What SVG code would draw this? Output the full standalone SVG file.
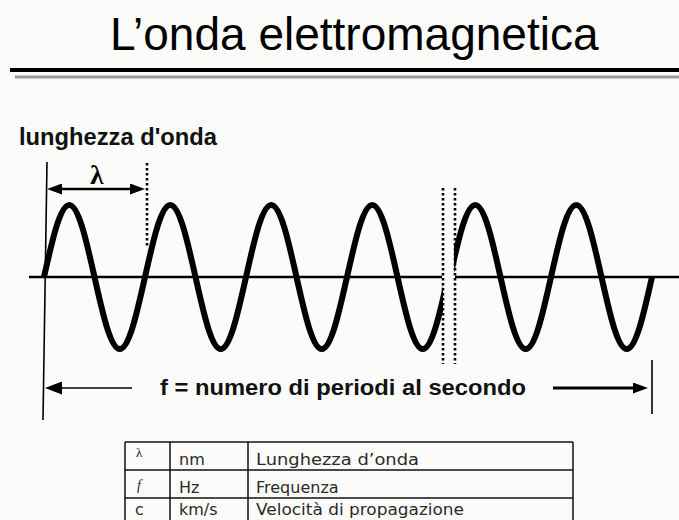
<svg xmlns="http://www.w3.org/2000/svg" width="679" height="520" viewBox="0 0 679 520">
<style>
.title{font-family:"Liberation Sans",Arial,sans-serif;font-size:46px;fill:#000}
.lbl{font-family:"Liberation Sans",Arial,sans-serif;font-weight:bold;fill:#111}
.wave{fill:none;stroke:#000;stroke-width:6;stroke-linejoin:round}
.axis{stroke:#000;stroke-width:2.5}
.thin{stroke:#000;stroke-width:1.6;fill:none}
.dot{stroke:#000;stroke-width:2.6;stroke-dasharray:2.6 2.4;fill:none}
.tbl{stroke:#111;stroke-width:1.5;fill:none}
.tt{font-family:"DejaVu Sans","Liberation Sans",sans-serif;font-size:16px;fill:#2a2a2a}
</style>
<defs>
<marker id="arrA" markerUnits="userSpaceOnUse" markerWidth="16" markerHeight="11" refX="0" refY="5.5" orient="auto-start-reverse"><path d="M0,0 L15,5.5 L0,11 z" fill="#000"/></marker>
<marker id="arrB" markerUnits="userSpaceOnUse" markerWidth="19" markerHeight="13" refX="0" refY="6.5" orient="auto-start-reverse"><path d="M0,0 L17,6.5 L0,13 z" fill="#000"/></marker>
<clipPath id="clipL"><rect x="0" y="150" width="443" height="250"/></clipPath>
<clipPath id="clipR"><rect x="454" y="150" width="225" height="250"/></clipPath>
</defs>
<rect x="0" y="0" width="679" height="520" fill="#fbfbfa"/>
<g id="header">
<text class="title" x="110" y="50">L’onda elettromagnetica</text>
<line x1="10" y1="70" x2="679" y2="70" stroke="#000" stroke-width="4"/>
<line x1="15" y1="77" x2="679" y2="77" stroke="#9a9a9a" stroke-width="3"/>
</g>
<g id="wave-diagram">
<text class="lbl" x="19" y="145" font-size="23" textLength="198" lengthAdjust="spacingAndGlyphs">lunghezza d'onda</text>
<line class="axis" x1="29" y1="277" x2="442" y2="277"/>
<line class="axis" x1="455" y1="277" x2="679" y2="277"/>
<line class="thin" x1="47" y1="162" x2="43" y2="420"/>
<path class="wave" clip-path="url(#clipL)" d="M44,277 c 8.235,-36.88 16.11,-72 25.25,-72 s 17.015,35.12 25.25,72 s 16.11,72 25.25,72 s 17.015,-35.12 25.25,-72 s 16.11,-72 25.25,-72 s 17.015,35.12 25.25,72 s 16.11,72 25.25,72 s 17.015,-35.12 25.25,-72 s 16.11,-72 25.25,-72 s 17.015,35.12 25.25,72 s 16.11,72 25.25,72 s 17.015,-35.12 25.25,-72 s 16.11,-72 25.25,-72 s 17.015,35.12 25.25,72 s 16.11,72 25.25,72 s 17.015,-35.12 25.25,-72"/>
<path class="wave" clip-path="url(#clipR)" d="M450,277 c 8.235,-36.88 16.11,-72 25.25,-72 s 17.015,35.12 25.25,72 s 16.11,72 25.25,72 s 17.015,-35.12 25.25,-72 s 16.11,-72 25.25,-72 s 17.015,35.12 25.25,72 s 16.11,72 25.25,72 s 17.015,-35.12 25.25,-72"/>
<line class="dot" x1="147" y1="163" x2="147" y2="248"/>
<line class="dot" x1="443" y1="188" x2="443" y2="364" stroke-width="3"/>
<line class="dot" x1="455" y1="188" x2="455" y2="364"/>
<text x="97" y="184" text-anchor="middle" font-family="Liberation Serif,serif" font-weight="bold" font-size="27" fill="#000">λ</text>
<line x1="62" y1="189" x2="130" y2="189" stroke="#000" stroke-width="2.5" marker-start="url(#arrA)" marker-end="url(#arrA)"/>
<line x1="62" y1="388" x2="132" y2="388" stroke="#000" stroke-width="1.6" marker-start="url(#arrB)"/>
<text class="lbl" x="160" y="395" font-size="22" textLength="366" lengthAdjust="spacingAndGlyphs">f = numero di periodi al secondo</text>
<line x1="553" y1="388" x2="633" y2="388" stroke="#000" stroke-width="3" marker-end="url(#arrA)"/>
<line class="thin" x1="652" y1="360" x2="652" y2="414"/>
</g>
<g id="table">
<line class="tbl" x1="125" y1="442" x2="573" y2="442"/>
<line class="tbl" x1="125" y1="470" x2="573" y2="470"/>
<line class="tbl" x1="125" y1="498" x2="573" y2="498"/>
<line class="tbl" x1="125" y1="442" x2="125" y2="520"/>
<line class="tbl" x1="170" y1="442" x2="170" y2="520"/>
<line class="tbl" x1="248" y1="442" x2="248" y2="520"/>
<line class="tbl" x1="573" y1="442" x2="573" y2="520"/>
<text x="136" y="457" font-family="Liberation Serif,serif" font-size="13" fill="#222">λ</text>
<text class="tt" x="179" y="465">nm</text>
<text class="tt" x="256" y="465" textLength="163" lengthAdjust="spacingAndGlyphs">Lunghezza d’onda</text>
<text x="137" y="490" font-family="Liberation Serif,serif" font-style="italic" font-size="14" fill="#222">f</text>
<text class="tt" x="179" y="493">Hz</text>
<text class="tt" x="256" y="493">Frequenza</text>
<text class="tt" x="135" y="515">c</text>
<text class="tt" x="179" y="515">km/s</text>
<text class="tt" x="256" y="515" textLength="208" lengthAdjust="spacingAndGlyphs">Velocità di propagazione</text>
</g>
</svg>
